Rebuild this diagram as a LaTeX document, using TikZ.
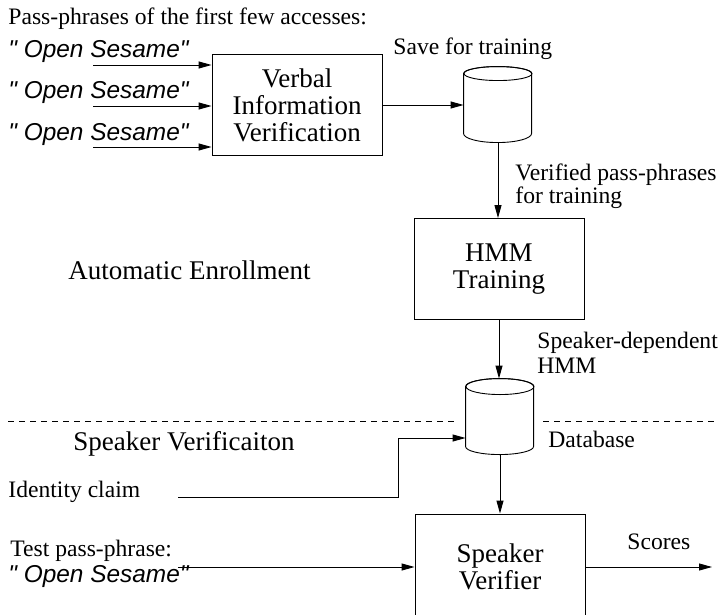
\documentclass[tikz,border=0pt]{standalone}
\usepackage{fontspec}
\setmainfont{Liberation Serif}
\newfontfamily\phrasefont{Liberation Sans}
\usetikzlibrary{arrows.meta}

\begin{document}
\begin{tikzpicture}[x=1pt,y=-1pt,line width=0.9pt,
  lbl/.style={anchor=base west,inner sep=0pt,font=\fontsize{23.6}{23.6}\selectfont},
  biglbl/.style={anchor=base west,inner sep=0pt,font=\fontsize{27}{27}\selectfont},
  phrase/.style={anchor=base west,inner sep=0pt,font=\phrasefont\itshape\fontsize{24.4}{24.4}\selectfont},
  blk/.style={draw,fill=white,minimum width=170pt,minimum height=101pt,inner sep=0pt,
    align=center,font=\fontsize{27}{27}\selectfont},
  dbase/.style={minimum width=68pt,minimum height=76pt,inner sep=0pt},
  flow/.style={-{Triangle[length=13pt,width=7pt]}}]
  \useasboundingbox (0,0) rectangle (720,615);
  % enrollment part
  \node[lbl] (title) at (8,25) {Pass-phrases of the first few accesses:};
  \node[phrase] (ph1) at (8,58) {" Open Sesame"};
  \node[phrase] (ph2) at (8,99) {" Open Sesame"};
  \node[phrase] (ph3) at (8,140) {" Open Sesame"};
  \coordinate (in1) at (93,65);
  \coordinate (in2) at (93,106);
  \coordinate (in3) at (93,147);
  \node[blk] (viv) at (297,105) {Verbal\\Information\\Verification};
  \node[dbase] (save) at (498,105) {};
  \draw[fill=white] (save.north west) ++(0,7) -- ++(0,60)
    arc[start angle=180,end angle=0,x radius=34,y radius=9] -- ++(0,-60)
    arc[start angle=0,end angle=-180,x radius=34,y radius=7] -- cycle;
  \draw (save.north) ++(0,7) ellipse[x radius=34,y radius=7];
  \node[lbl] (savelbl) at (393,55) {Save for training};
  \node[lbl] (verlbl) at (515,180) {Verified pass-phrases};
  \node[lbl] (verlbl2) at (515,203) {for training};
  \node[blk] (hmm) at (499,269) {HMM\\Training};
  \node[biglbl] (enroll) at (68,279) {Automatic Enrollment};
  \node[lbl] (sdlbl) at (537,348) {Speaker-dependent};
  \node[lbl] (sdlbl2) at (537,373) {HMM};
  \draw[flow] (in1) -- (in1 -| viv.west);
  \draw[flow] (in2) -- (in2 -| viv.west);
  \draw[flow] (in3) -- (in3 -| viv.west);
  \draw[flow] (viv.east) -- (save.west);
  \draw[flow] (save.south) -- (save.south |- hmm.north);
  % separator
  \draw[dash pattern=on 6pt off 5pt] (8,421) -- (455,421);
  \draw[dash pattern=on 6pt off 5pt] (543,421) -- (718,421);
  % verification part
  \node[dbase] (db) at (500,417) {};
  \draw[fill=white] (db.north west) ++(0,8) -- ++(0,60)
    arc[start angle=180,end angle=0,x radius=34,y radius=8] -- ++(0,-60)
    arc[start angle=0,end angle=-180,x radius=34,y radius=8] -- cycle;
  \draw (db.north) ++(0,8) ellipse[x radius=34,y radius=8];
  \node[lbl] (dblbl) at (548,447) {Database};
  \node[biglbl] (verif) at (73,450) {Speaker Verificaiton};
  \node[lbl] (claim) at (8,497) {Identity claim};
  \node[lbl] (test) at (10,556) {Test pass-phrase:};
  \node[phrase] (ph4) at (8,582) {" Open Sesame"};
  \node[blk,minimum height=106pt] (verifier) at (500,567) {Speaker\\Verifier};
  \node[lbl] (scores) at (627,549) {Scores};
  \coordinate (claimin) at (178,497);
  \coordinate (bend) at (398,438);
  \coordinate (testin) at (178,567);
  \coordinate (scoreout) at (712,567);
  \draw[flow] (hmm.south) -- (hmm.south |- db.north);
  \draw[flow] (claimin) -| (bend) -- (bend -| db.west);
  \draw[flow] (db.south) -- (db.south |- verifier.north);
  \draw[flow] (testin) -- (testin -| verifier.west);
  \draw[flow] (verifier.east) -- (scoreout);
\end{tikzpicture}
\end{document}
